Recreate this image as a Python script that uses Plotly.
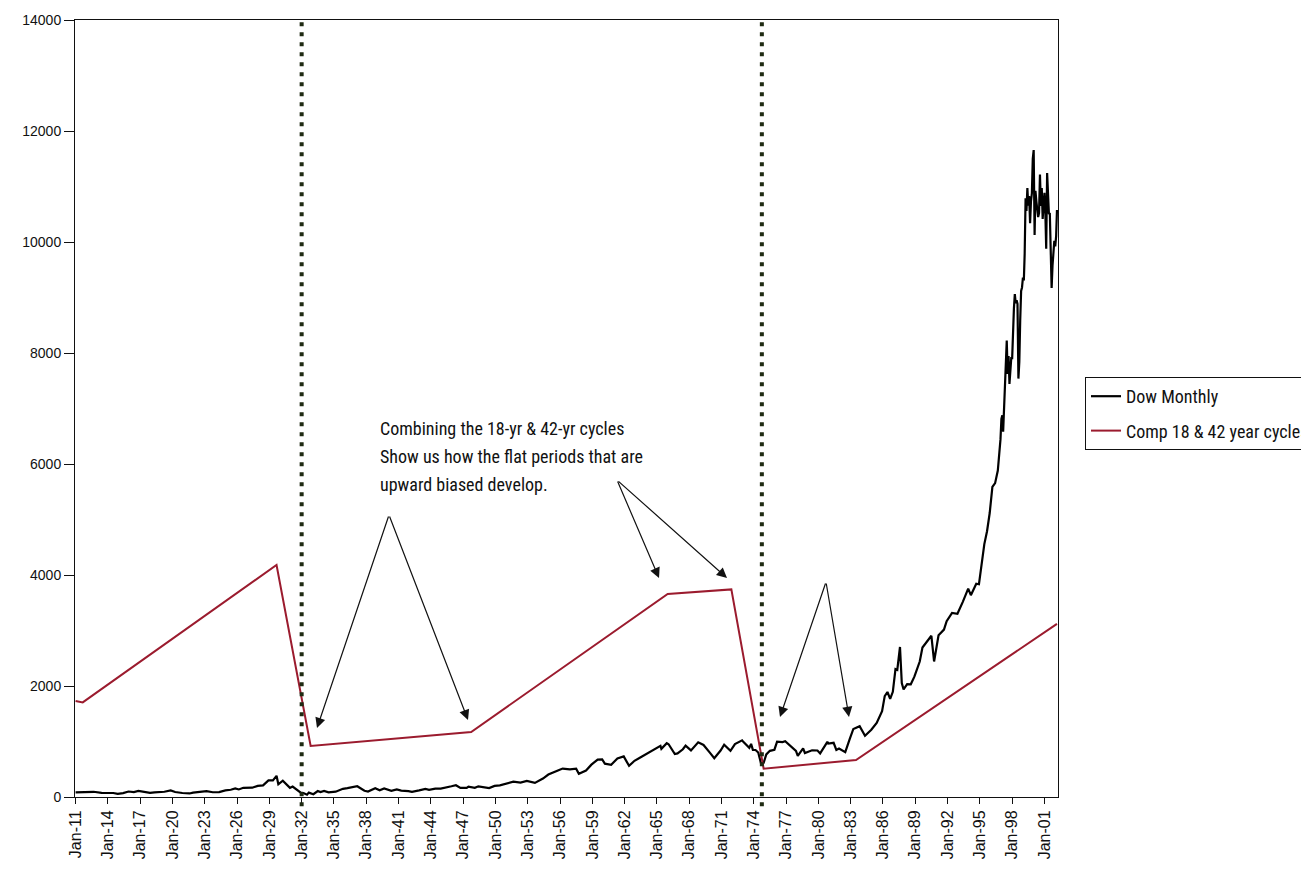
import plotly.graph_objects as go

# ---------------- data ----------------
dow_dates = [
    "1911-01", "1911-07", "1911-10", "1912-04", "1912-09", "1913-06", "1913-12", "1914-07", "1914-12",
    "1915-06", "1915-12", "1916-06", "1916-11", "1917-06", "1917-12", "1918-05", "1918-10", "1919-04",
    "1919-11", "1920-04", "1920-12", "1921-08", "1921-12", "1922-06", "1922-10", "1923-03", "1923-10",
    "1924-05", "1924-12", "1925-06", "1925-11", "1926-03", "1926-08", "1927-06", "1927-12", "1928-06",
    "1928-12", "1929-05", "1929-09", "1929-11", "1930-04", "1930-12", "1931-03", "1931-06", "1931-12",
    "1932-03", "1932-07", "1932-09", "1933-02", "1933-07", "1933-10", "1934-02", "1934-07", "1935-03",
    "1935-11", "1936-04", "1936-11", "1937-03", "1937-11", "1938-03", "1938-11", "1939-04", "1939-09",
    "1940-05", "1940-11", "1941-04", "1941-12", "1942-04", "1942-12", "1943-07", "1943-11", "1944-06",
    "1944-12", "1945-06", "1945-12", "1946-05", "1946-10", "1947-05", "1947-07", "1948-02", "1948-06",
    "1949-06", "1949-12", "1950-06", "1950-12", "1951-09", "1952-05", "1952-12", "1953-09", "1953-12",
    "1954-06", "1954-12", "1955-06", "1955-12", "1956-04", "1956-12", "1957-07", "1957-10", "1958-06",
    "1958-12", "1959-07", "1959-12", "1960-03", "1960-10", "1961-05", "1961-12", "1962-06", "1962-12",
    "1963-06", "1963-12", "1964-06", "1964-12", "1965-05", "1965-06", "1965-12", "1966-02", "1966-09",
    "1966-12", "1967-06", "1967-09", "1968-03", "1968-11", "1969-05", "1969-12", "1970-05", "1970-12",
    "1971-04", "1971-11", "1972-04", "1972-12", "1973-01", "1973-08", "1973-10", "1973-12", "1974-03",
    "1974-06", "1974-09", "1974-12", "1975-03", "1975-07", "1975-12", "1976-03", "1976-09", "1976-12",
    "1977-06", "1977-12", "1978-02", "1978-08", "1978-10", "1979-06", "1979-12", "1980-03", "1980-11",
    "1980-12", "1981-06", "1981-09", "1981-12", "1982-07", "1982-12", "1983-04", "1983-11", "1984-05",
    "1984-12", "1985-06", "1985-12", "1986-03", "1986-06", "1986-09", "1986-12", "1987-03", "1987-05",
    "1987-08", "1987-10", "1987-12", "1988-04", "1988-08", "1988-12", "1989-06", "1989-09", "1989-12",
    "1990-06", "1990-07", "1990-10", "1990-12", "1991-03", "1991-09", "1991-12", "1992-06", "1992-12",
    "1993-06", "1993-12", "1994-03", "1994-09", "1994-12", "1995-03", "1995-06", "1995-09", "1995-12",
    "1996-03", "1996-06", "1996-09", "1996-12",
    "1997-01", "1997-02", "1997-03", "1997-04", "1997-05", "1997-06", "1997-07", "1997-08", "1997-09",
    "1997-10", "1997-11", "1997-12",
    "1998-01", "1998-02", "1998-03", "1998-04", "1998-05", "1998-06", "1998-07", "1998-08", "1998-09",
    "1998-10", "1998-11", "1998-12",
    "1999-01", "1999-02", "1999-03", "1999-04", "1999-05", "1999-06", "1999-07", "1999-08", "1999-09",
    "1999-10", "1999-11", "1999-12",
    "2000-01", "2000-02", "2000-03", "2000-04", "2000-05", "2000-06", "2000-07", "2000-08", "2000-09",
    "2000-10", "2000-11", "2000-12",
    "2001-01", "2001-02", "2001-03", "2001-04", "2001-05", "2001-06", "2001-07", "2001-08", "2001-09",
    "2001-10", "2001-11", "2001-12",
    "2002-01", "2002-02", "2002-03",
]
dow_values = [
    82, 86, 75, 90, 94, 75, 79, 72, 55,
    70, 99, 88, 110, 95, 74, 82, 85, 95,
    119, 90, 72, 64, 80, 93, 103, 105, 86,
    89, 120, 130, 155, 136, 166, 168, 200, 210,
    300, 300, 381, 230, 294, 165, 187, 150, 78,
    73, 41, 79, 50, 108, 88, 110, 85, 96,
    148, 160, 185, 194, 113, 99, 158, 121, 155,
    112, 138, 115, 106, 92, 119, 145, 129, 150,
    152, 168, 193, 212, 163, 163, 187, 165, 193,
    161, 200, 209, 235, 276, 258, 291, 255, 280,
    333, 404, 451, 488, 512, 499, 509, 419, 478,
    583, 675, 679, 601, 580, 696, 731, 561, 652,
    706, 763, 831, 874, 922, 868, 969, 951, 774,
    785, 860, 926, 840, 985, 937, 800, 700, 838,
    941, 831, 954, 1020, 999, 887, 956, 850, 847,
    802, 608, 616, 768, 832, 852, 999, 990, 1004,
    916, 831, 742, 876, 793, 841, 838, 785, 993,
    963, 976, 849, 875, 808, 1046, 1226, 1276, 1104,
    1211, 1335, 1546, 1818, 1892, 1767, 1895, 2304, 2291,
    2703, 2054, 1938, 2032, 2031, 2168, 2440, 2693, 2753,
    2880, 2905, 2442, 2633, 2913, 3017, 3168, 3318, 3301,
    3516, 3754, 3636, 3843, 3834, 4158, 4556, 4789, 5117,
    5587, 5655, 5882, 6448,
    6813, 6877, 6584, 7009, 7331, 7673, 8223, 7622, 7945,
    7442, 7823, 7908,
    7907, 8546, 8800, 9063, 8900, 8952, 8883, 7539, 7843,
    8592, 9117, 9181,
    9359, 9307, 9786, 10789, 10560, 10971, 10655, 10829, 10337,
    10730, 10878, 11497,
    11657, 10128, 10922, 10734, 10522, 10448, 10522, 11215, 10651,
    10971, 10415, 10788,
    10887, 10495, 9879, 11243, 10912, 10502, 10523, 9950, 9171,
    9575, 9852, 10022,
    9920, 10106, 10577,
]

comp_dates = ["1911-01", "1911-09", "1929-09", "1932-11", "1947-10", "1966-01",
              "1971-12", "1974-12", "1983-07", "2002-03"]
comp_values = [1730, 1705, 4180, 919, 1171, 3658, 3740, 510, 667, 3120]

cycle_lines = ["1932-01", "1974-10"]

tick_years = list(range(1911, 2002, 3))
tick_vals = [f"{y}-01-01" for y in tick_years]
tick_text = [f"Jan-{y % 100:02d}" for y in tick_years]

y_ticks = [0, 2000, 4000, 6000, 8000, 10000, 12000, 14000]

note_lines = ["Combining the 18-yr & 42-yr cycles",
              "Show us how the flat periods that are",
              "upward biased develop."]

series_names = ["Dow Monthly", "Comp 18 & 42 year cycles"]

# ---------------- figure ----------------
SANS = "Liberation Sans, Arial, sans-serif"
NARROW = "Liberation Sans Narrow, Arial Narrow, Roboto Condensed, Liberation Sans, sans-serif"
fig = go.Figure()
fig.add_trace(go.Scatter(x=dow_dates, y=dow_values, mode="lines", name=series_names[0],
                         line=dict(color="#000000", width=2.2), legendgroup="a"))
fig.add_trace(go.Scatter(x=comp_dates, y=comp_values, mode="lines", name=series_names[1],
                         line=dict(color="#9b1b2e", width=2), legendgroup="b"))

for d in cycle_lines:
    fig.add_shape(type="line", xref="x", yref="paper", x0=d, x1=d, y0=-0.012, y1=1,
                  line=dict(color="#1e2a12", width=4, dash="4px,6px"))

# page offset (body margin) compensation
OFF = 8
W, H = 1309 - OFF, 878 - OFF
L, R, T, B = 75, 1058, 20, 797          # desired plot box in screenshot pixels

# text note
for i, t in enumerate(note_lines):
    fig.add_annotation(xref="paper", yref="paper", x=(378 - L) / (R - L),
                       y=(B - (428 + i * 28)) / (B - T),
                       text=t, showarrow=False, xanchor="left", yanchor="middle",
                       font=dict(family=NARROW, size=18, color="#111"))

# arrows: (tip x px, tip y px, tail x px, tail y px)
arrow_specs = [
    (317, 728, 389, 515), (468, 720, 389, 515),
    (659, 578, 617, 480), (727, 578, 617, 480),
    (780, 717, 826, 582), (849, 717, 826, 582),
]
for tx, ty, sx, sy in arrow_specs:
    fig.add_annotation(xref="paper", yref="paper",
                       x=(tx - L) / (R - L), y=(B - ty) / (B - T),
                       ax=sx - tx, ay=sy - ty, axref="pixel", ayref="pixel",
                       text="", showarrow=True, arrowhead=2, arrowsize=1.7,
                       arrowwidth=1.2, arrowcolor="#111")

fig.update_layout(
    width=W, height=H,
    margin=dict(l=L - OFF, r=W + OFF - R, t=T - OFF, b=H + OFF - B, autoexpand=False),
    paper_bgcolor="white", plot_bgcolor="white",
    font=dict(family=SANS, size=14, color="#111"),
    showlegend=True,
    legend=dict(x=(1085 - L) / (R - L), y=(B - 377) / (B - T), xanchor="left", yanchor="top",
                bordercolor="#111", borderwidth=1, bgcolor="white",
                font=dict(family=NARROW, size=18, color="#111"),
                traceorder="grouped", tracegroupgap=8, itemwidth=30),
    xaxis=dict(type="date", range=["1910-12-12", "2002-04-05"],
               tickmode="array", tickvals=tick_vals, ticktext=tick_text,
               tickangle=-90, ticks="outside", ticklen=6, tickcolor="#111",
               showline=True, linecolor="#111", linewidth=1, mirror=True,
               showgrid=False, zeroline=False,
               tickfont=dict(family=SANS, size=16)),
    yaxis=dict(range=[0, 14000], tickmode="array", tickvals=y_ticks,
               ticktext=[str(v) for v in y_ticks], ticks="outside", ticklen=10,
               tickcolor="#111", showline=True, linecolor="#111", linewidth=1,
               mirror=True, showgrid=False, zeroline=False,
               tickfont=dict(family=SANS, size=14)),
)

fig.write_html("out.html")
